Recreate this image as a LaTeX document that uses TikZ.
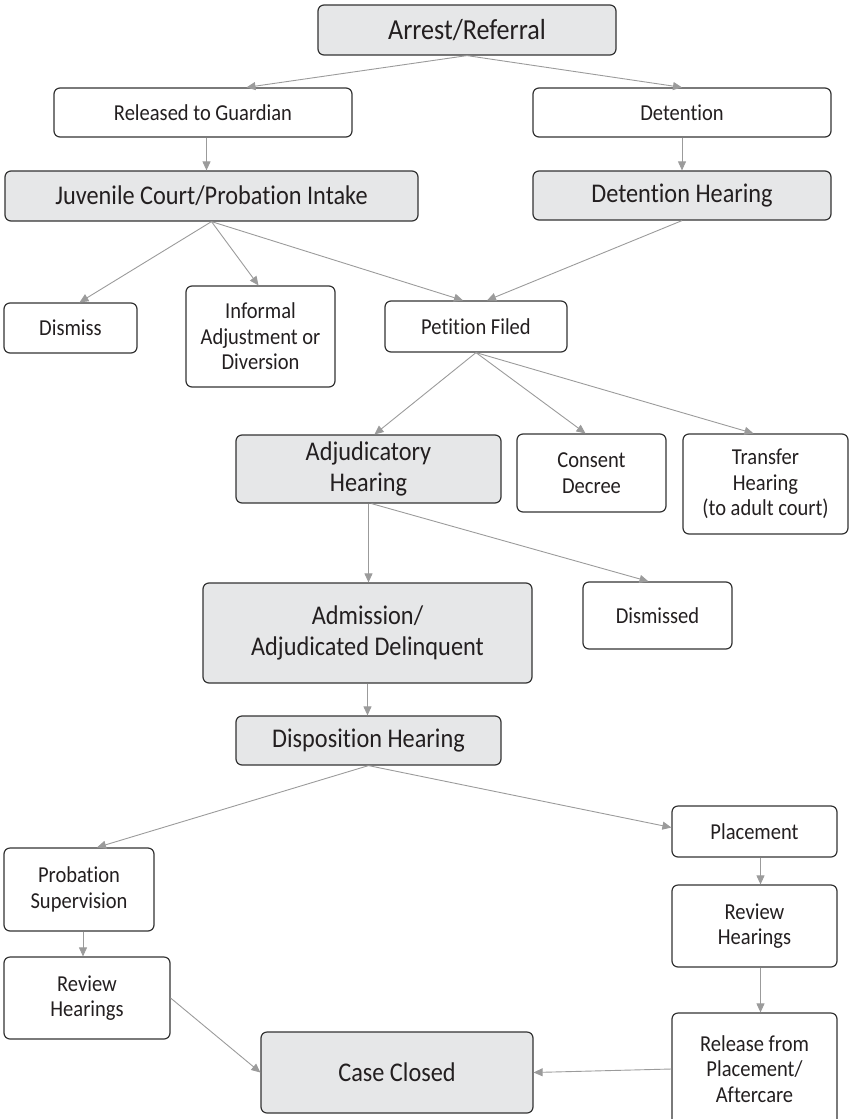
\documentclass[tikz,border=0pt]{standalone}
\usepackage{fontspec}
\setmainfont{Carlito}[FakeStretch=0.9, Ligatures=NoCommon]
\usepackage{xcolor}
\usetikzlibrary{arrows.meta}
\definecolor{boxgray}{HTML}{E6E7E8}
\definecolor{edgegray}{HTML}{333333}
\definecolor{linegray}{HTML}{9B9B9B}
\definecolor{inkblack}{HTML}{231F20}

\begin{document}
\begin{tikzpicture}[x=1pt, y=-1pt,
	stage/.style={draw=edgegray, line width=1.2pt, rounded corners=6pt, fill=white, text=inkblack, align=center, inner sep=0pt, font=\fontsize{22.8}{25.5}\selectfont},
	court/.style={stage, fill=boxgray, font=\fontsize{27}{31}\selectfont},
	dims/.style 2 args={minimum width=#1pt, minimum height=#2pt},
	flow/.style={draw=linegray, line width=0.9pt, -{Triangle[length=9pt, width=8pt]}}]
				\useasboundingbox (0, 0) rectangle (849, 1119);
				\node[court, dims={298}{50}, font=\fontsize{29}{33}\selectfont] (arrest) at (467, 30) {Arrest/Referral};
				\node[stage, dims={298}{49}] (released) at (203, 112.5) {Released to Guardian};
				\node[stage, dims={298}{49}] (detention) at (682, 112.5) {Detention};
				\node[court, dims={413}{50}] (intake) at (211.5, 196) {Juvenile Court/Probation Intake};
				\node[court, dims={298}{49}] (dethearing) at (682, 195.5) {Detention Hearing};
				\node[stage, dims={133}{50}] (dismiss) at (70.5, 328) {Dismiss};
				\node[stage, dims={149}{101}] (informal) at (260.5, 336.5) {Informal\\Adjustment or\\Diversion};
				\node[stage, dims={182}{51}] (petition) at (476, 326.5) {Petition Filed};
				\node[court, dims={265}{68}] (adjudicatory) at (368.5, 469) {Adjudicatory\\Hearing};
				\node[stage, dims={149}{78}] (consent) at (591.5, 473) {Consent\\Decree};
				\node[stage, dims={165}{100}] (transfer) at (765.5, 484) {Transfer\\Hearing\\(to adult court)};
				\node[court, dims={329}{100}] (admission) at (367.5, 633) {Admission/\\Adjudicated Delinquent};
				\node[stage, dims={149}{67}] (dismissed) at (657.5, 615.5) {Dismissed};
				\node[court, dims={265}{49}] (disposition) at (368.5, 740.5) {Disposition Hearing};
				\node[stage, dims={150}{83}] (probation) at (79, 889.5) {Probation\\Supervision};
				\node[stage, dims={165}{51}] (placement) at (754.5, 831.5) {Placement};
				\node[stage, dims={166}{82}] (reviewleft) at (87, 998) {Review\\Hearings};
				\node[stage, dims={165}{82}] (reviewright) at (754.5, 926) {Review\\Hearings};
				\node[court, dims={272}{81}] (closed) at (397, 1072.5) {Case Closed};
				\node[stage, dims={165}{112}] (release) at (754.5, 1069) {Release from\\Placement/\\Aftercare};
				\draw[flow] (arrest.south) -- (released.30);
				\draw[flow] (arrest.south) -- (detention.north);
				\draw[flow] ([xshift=3.5pt]released.south) -- ([xshift=3.5pt]released.south |- intake.north);
				\draw[flow] (detention.south) -- (dethearing.north);
				\draw[flow] (intake.south) -- ([xshift=9pt]dismiss.north);
				\draw[flow] (intake.south) -- ([xshift=-2pt]informal.north);
				\draw[flow] (intake.south) -- ([xshift=-13pt]petition.north);
				\draw[flow] (dethearing.south) -- ([xshift=11pt]petition.north);
				\draw[flow] (petition.south) -- ([xshift=6pt]adjudicatory.north);
				\draw[flow] (petition.south) -- ([xshift=-6pt]consent.north);
				\draw[flow] (petition.south) -- ([xshift=-12pt]transfer.north);
				\draw[flow] (adjudicatory.south) -- (adjudicatory.south |- admission.north);
				\draw[flow] ([xshift=3pt]adjudicatory.south) -- ([xshift=-9pt]dismissed.north);
				\draw[flow] (admission.south) -- (admission.south |- disposition.north);
				\draw[flow] (disposition.south) -- ([xshift=18pt]probation.north);
				\draw[flow] (disposition.south) -- ([yshift=4pt]placement.west);
				\draw[flow] ([xshift=4pt]probation.south) -- ([xshift=4pt]probation.south |- reviewleft.north);
				\draw[flow] ([xshift=6pt]placement.south) -- ([xshift=6pt]reviewright.north);
				\draw[flow] ([xshift=6pt]reviewright.south) -- ([xshift=6pt]release.north);
				\draw[flow] (reviewleft.east) -- (closed.west);
				\draw[flow] (release.west) -- (closed.east);
\end{tikzpicture}
\end{document}
